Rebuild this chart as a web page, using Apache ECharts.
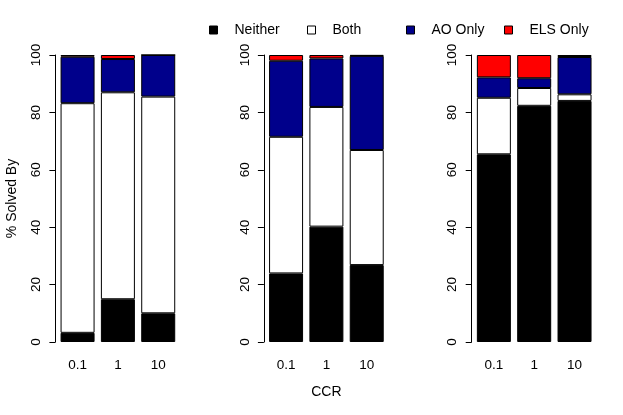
<!DOCTYPE html>
<html>
<head>
<meta charset="utf-8">
<script src="https://cdn.jsdelivr.net/npm/echarts@6/dist/echarts.min.js"></script>
<style>html,body{margin:0;padding:0;background:#fff}#c{width:623px;height:415px}</style>
</head>
<body>
<div id="c"></div>
<script>
var categories = ['0.1', '1', '10'];
var seriesNames = ['Neither', 'Both', 'AO Only', 'ELS Only'];
var colors = ['#000000', '#ffffff', '#00008B', '#ff0000'];
var yTicks = [0, 20, 40, 60, 80, 100];

// Panel 1
var p1Neither = [3.2, 14.9, 10.0];
var p1Both    = [80.0, 72.1, 75.5];
var p1AO      = [16.2, 11.6, 14.5];
var p1ELS     = [0.6, 1.4, 0.0];
// Panel 2
var p2Neither = [23.9, 40.2, 26.8];
var p2Both    = [47.6, 41.7, 40.1];
var p2AO      = [26.5, 16.9, 32.8];
var p2ELS     = [2.0, 1.2, 0.3];
// Panel 3
var p3Neither = [65.4, 82.3, 84.0];
var p3Both    = [19.7, 6.2, 2.3];
var p3AO      = [7.1, 3.4, 13.0];
var p3ELS     = [7.8, 8.1, 0.7];

var panels = [
  [p1Neither, p1Both, p1AO, p1ELS],
  [p2Neither, p2Both, p2AO, p2ELS],
  [p3Neither, p3Both, p3AO, p3ELS]
];
var gridLefts = [57.4, 265.9, 473.7];
var FONT = 'Liberation Sans';

var grids = [], xAxes = [], yAxes = [], series = [];
panels.forEach(function (p, i) {
  grids.push({left: gridLefts[i], top: 55, width: 121, height: 287});
  xAxes.push({
    type: 'category', gridIndex: i, data: categories,
    axisLine: {show: false}, axisTick: {show: false},
    axisLabel: {color: '#000', fontFamily: FONT, fontSize: 13.5, margin: 16},
    name: i === 1 ? 'CCR' : '', nameLocation: 'middle', nameGap: 43,
    nameTextStyle: {color: '#000', fontFamily: FONT, fontSize: 14}
  });
  yAxes.push({
    type: 'value', gridIndex: i, min: yTicks[0], max: yTicks[yTicks.length - 1], interval: 20,
    offset: 2,
    axisLine: {show: true, lineStyle: {color: '#000', width: 1}},
    axisTick: {show: true, length: 6, lineStyle: {color: '#000'}},
    splitLine: {show: false},
    axisLabel: {color: '#000', fontFamily: FONT, fontSize: 13.5, rotate: 90, margin: 12},
    name: i === 0 ? '% Solved By' : '', nameLocation: 'middle', nameGap: 36, nameRotate: 90,
    nameTextStyle: {color: '#000', fontFamily: FONT, fontSize: 14}
  });
  p.forEach(function (vals, k) {
    series.push({
      type: 'bar', name: seriesNames[k], xAxisIndex: i, yAxisIndex: i,
      stack: 'p' + i, data: vals, barWidth: 34,
      itemStyle: {color: colors[k], borderColor: '#000', borderWidth: 1},
      emphasis: {disabled: true}, silent: true
    });
  });
});

var legendLefts = [209, 307, 406, 504];
var legends = seriesNames.map(function (n, k) {
  return {
    data: [{name: n, icon: 'rect', itemStyle: {color: colors[k], borderColor: '#000', borderWidth: 1}}],
    left: legendLefts[k], top: 23, padding: 0, itemWidth: 8, itemHeight: 8,
    selectedMode: false,
    textStyle: {color: '#000', fontFamily: FONT, fontSize: 14, padding: [0, 0, 0, 12]}
  };
});

var chart = echarts.init(document.getElementById('c'), null, {renderer: 'canvas'});
chart.setOption({
  animation: false,
  backgroundColor: '#fff',
  legend: legends,
  grid: grids,
  xAxis: xAxes,
  yAxis: yAxes,
  series: series
});
</script>
</body>
</html>
